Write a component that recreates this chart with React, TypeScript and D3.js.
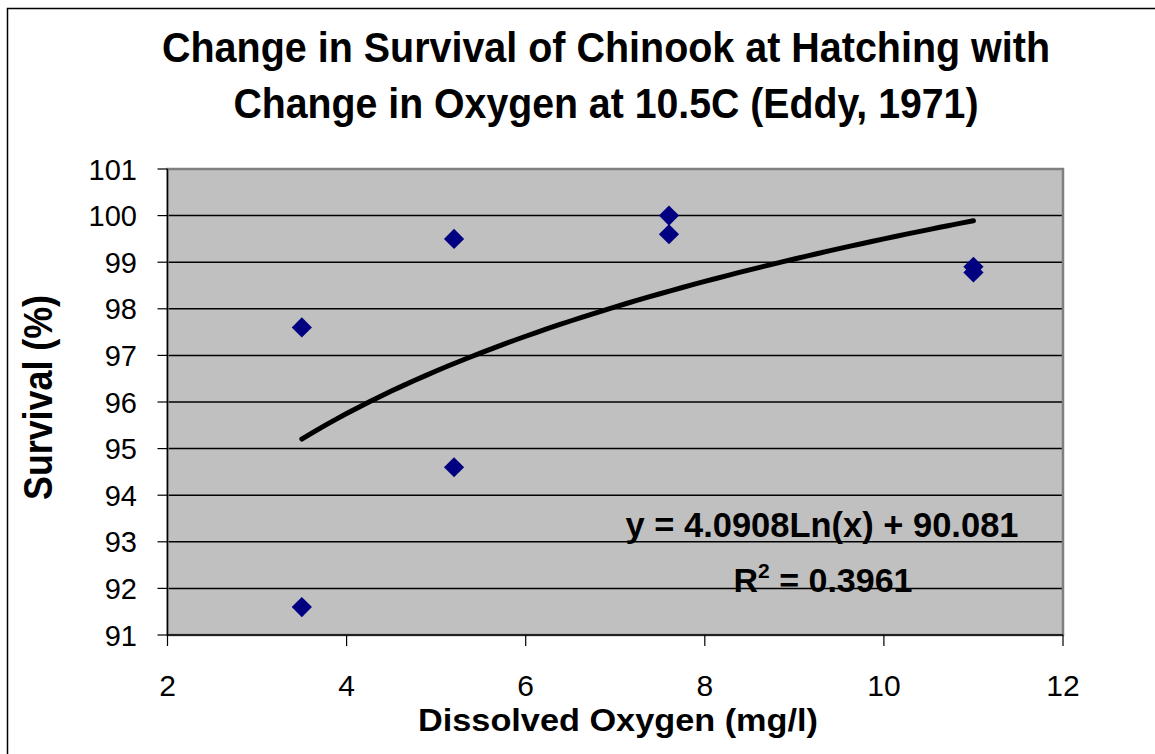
import React from "react";
import * as d3 from "d3";

const oxygen = [3.5, 3.5, 5.2, 5.2, 7.6, 7.6, 11, 11];
const survival = [97.6, 91.6, 99.5, 94.6, 100, 99.6, 98.9, 98.78];
const xTicks = [2, 4, 6, 8, 10, 12];
const yTicks = [91, 92, 93, 94, 95, 96, 97, 98, 99, 100, 101];
const trendA = 4.0908;
const trendB = 90.081;
const trendR2 = 0.3961;

const W = 1155;
const H = 754;
const L = 167.5, R = 1063, T = 169, B = 635;
const font = "'Liberation Sans', Arial, sans-serif";

export default function App() {
  const x = d3.scaleLinear().domain([2, 12]).range([L, R]);
  const y = d3.scaleLinear().domain([91, 101]).range([B, T]);
  const xs = d3.range(0, 61).map((i) => 3.5 + (i * (11 - 3.5)) / 60);
  const line = d3
    .line<number>()
    .x((d) => x(d))
    .y((d) => y(trendA * Math.log(d) + trendB))
    .curve(d3.curveMonotoneX);
  const diamond = d3.symbol().type(d3.symbolDiamond2).size(260)();
  return (
    <svg width={W} height={H} style={{ position: "absolute", left: 0, top: 0 }} fontFamily={font}>
      <rect x={0} y={0} width={W} height={H} fill="#fff" />
      <rect x={7.5} y={8.5} width={W + 20} height={H + 20} fill="none" stroke="#000" strokeWidth={1.5} />
      <text x={606} y={62} textAnchor="middle" fontSize={42} fontWeight="bold" textLength={888} lengthAdjust="spacingAndGlyphs">
        Change in Survival of Chinook at Hatching with
      </text>
      <text x={606} y={118} textAnchor="middle" fontSize={42} fontWeight="bold" textLength={745} lengthAdjust="spacingAndGlyphs">
        Change in Oxygen at 10.5C (Eddy, 1971)
      </text>
      <rect x={L} y={T} width={R - L} height={B - T} fill="#C0C0C0" />
      {yTicks.slice(1, -1).map((t) => (
        <line key={"g" + t} x1={L} x2={R} y1={y(t)} y2={y(t)} stroke="#000" strokeWidth={1.5} />
      ))}
      <rect x={L} y={T} width={R - L} height={B - T} fill="none" stroke="#808080" strokeWidth={2.5} />
      <line x1={L} x2={L} y1={T} y2={B} stroke="#000" strokeWidth={1.2} />
      <line x1={L} x2={R} y1={B} y2={B} stroke="#000" strokeWidth={1.5} />
      {yTicks.map((t) => (
        <g key={"y" + t}>
          <line x1={L - 10} x2={L} y1={y(t)} y2={y(t)} stroke="#000" strokeWidth={1.2} />
          <text x={137} y={y(t) + 10.5} textAnchor="end" fontSize={29}>
            {t}
          </text>
        </g>
      ))}
      {xTicks.map((t) => (
        <g key={"x" + t}>
          <line x1={x(t)} x2={x(t)} y1={B} y2={B + 11} stroke="#000" strokeWidth={1.2} />
          <text x={x(t)} y={696} textAnchor="middle" fontSize={30}>
            {t}
          </text>
        </g>
      ))}
      <path d={line(xs) || ""} fill="none" stroke="#000" strokeWidth={5} strokeLinecap="round" />
      {oxygen.map((o, i) => (
        <path key={"p" + i} d={diamond || ""} transform={`translate(${x(o)},${y(survival[i])})`} fill="#000080" />
      ))}
      <text x={822} y={537} textAnchor="middle" fontSize={35} fontWeight="bold" textLength={393} lengthAdjust="spacingAndGlyphs">
        {`y = ${trendA}Ln(x) + ${trendB}`}
      </text>
      <text x={823} y={592} textAnchor="middle" fontSize={34} fontWeight="bold">
        R<tspan dy={-14} fontSize={21}>2</tspan>
        <tspan dy={14}>{` = ${trendR2}`}</tspan>
      </text>
      <text x={618} y={731} textAnchor="middle" fontSize={31} fontWeight="bold" textLength={400} lengthAdjust="spacingAndGlyphs">
        Dissolved Oxygen (mg/l)
      </text>
      <text transform={`translate(52,397.5) rotate(-90)`} textAnchor="middle" fontSize={41} fontWeight="bold" textLength={205} lengthAdjust="spacingAndGlyphs">
        Survival (%)
      </text>
    </svg>
  );
}
